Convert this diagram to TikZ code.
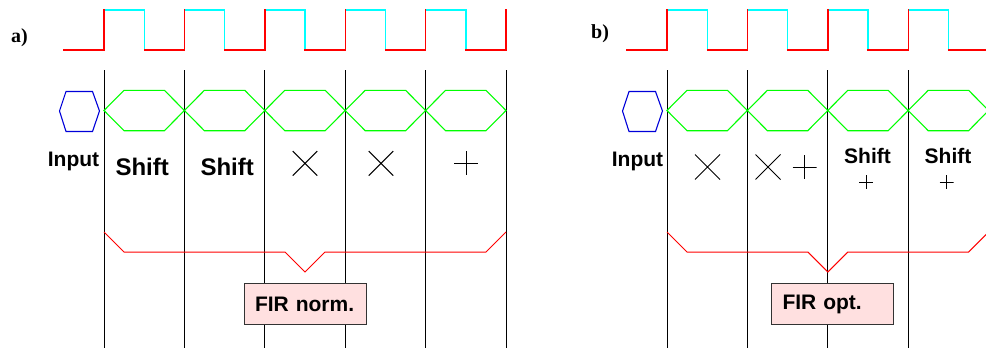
\documentclass[tikz,border=0pt]{standalone}
\usepackage{fontspec}
\setmainfont{Liberation Serif}
\setsansfont{Liberation Sans}
\usetikzlibrary{shapes.misc}
\definecolor{clkred}{RGB}{255,0,0}
\definecolor{clkcyan}{RGB}{0,255,255}
\definecolor{eyegreen}{RGB}{0,255,0}
\definecolor{firpink}{RGB}{255,224,224}
\tikzset{
  clklo/.style={clkred, line width=1.4pt, line cap=rect},
  clkhi/.style={clkcyan, line width=1.4pt},
  eye/.style={eyegreen, line width=1.1pt},
  slot/.style={black, line width=0.9pt},
  bus/.style={clkred, line width=1pt},
  inhex/.style={draw=blue!85!black, line width=1.1pt},
  panellbl/.style={font=\rmfamily\bfseries\fontsize{20}{24}\selectfont,
    inner sep=0pt, anchor=base west},
  optxt/.style={font=\sffamily\bfseries\fontsize{#1}{#1}\selectfont,
    inner sep=0pt, anchor=base},
  mulop/.style={cross out, draw, line width=1pt, minimum size=#1, inner sep=0pt},
  addop/.style={minimum size=#1, inner sep=0pt,
    path picture={\draw[line width=1pt]
      (path picture bounding box.north) -- (path picture bounding box.south)
      (path picture bounding box.west) -- (path picture bounding box.east);}},
  firbox/.style={draw=black!80, line width=1pt, fill=firpink,
    font=\sffamily\bfseries\fontsize{21}{24}\selectfont,
    text width=100pt, align=left, inner xsep=11pt, inner ysep=0pt,
    minimum height=41.5pt},
}

\begin{document}
\begin{tikzpicture}[x=1pt, y=-1pt]
  \useasboundingbox (0,0) rectangle (986,348);
  \clip (0,0) rectangle (986,348);
  % Common parts of both panels
  \foreach \dx in {0,563} {
    \begin{scope}[xshift=\dx pt]
      % clock: high halves, then low halves
      \foreach \k in {0,...,4} {
        \pgfmathsetmacro\xa{104+80.4*\k}
        \draw[clkhi] (\xa,10) -- (\xa+40.2,10) -- (\xa+40.2,50);
      }
      \draw[clklo] (63.5,50) -- (104,50) -- (104,10);
      \foreach \k in {0,...,4} {
        \pgfmathsetmacro\xa{104+80.4*\k}
        \draw[clklo] (\xa+40.2,50) -- (\xa+80.4,50) -- (\xa+80.4,10);
      }
      % time slots
      \foreach \k in {0,...,5}
        \draw[slot] (104+80.4*\k,70) -- (104+80.4*\k,348);
      % data eyes
      \foreach \k in {0,...,4} {
        \pgfmathsetmacro\xa{104+80.4*\k}
        \pgfmathsetmacro\xb{\xa+80.4}
        \draw[eye] (\xa,110.5) -- (\xa+20,90.3) -- (\xb-20,90.3) -- (\xb,110.5)
          -- (\xb-20,130.7) -- (\xa+20,130.7) -- cycle;
      }
      % input
      \draw[inhex] (59.5,111) -- (66,91.5) -- (92.5,91.5) -- (99.5,111)
        -- (92.5,131.5) -- (66,131.5) -- cycle;
    \end{scope}
  }
  % Panel a
  \node[panellbl] (lblA) at (11,42.5) {a)};
  \node[optxt=21] (inA) at (73.5,166.5) {Input};
  \node[optxt=24] (shA1) at (142.2,175) {Shift};
  \node[optxt=24] (shA2) at (227.2,175) {Shift};
  \node[mulop=23.5pt] (mulA3) at (305,163.3) {};
  \node[mulop=23.5pt] (mulA4) at (381,163.3) {};
  \node[addop=24pt] (addA5) at (466.2,163) {};
  \draw[bus] (104,232) -- (124,252) -- (285,252) -- (305,272) -- (325,252)
    -- (486,252) -- (506,232);
  \node[firbox] (firA) at (305,304) {FIR norm.};
  % Panel b
  \node[panellbl] (lblB) at (591,38) {b)};
  \node[optxt=21] (inB) at (637.5,166.5) {Input};
  \node[mulop=24pt] (mulB1) at (707.5,167) {};
  \node[mulop=24pt] (mulB2) at (768,167) {};
  \node[addop=24pt] (addB2) at (804.5,167) {};
  \node[optxt=21] (shB3) at (867.5,163.3) {Shift};
  \node[addop=14pt] (addB3) at (866,182.3) {};
  \node[optxt=21] (shB4) at (948,163.3) {Shift};
  \node[addop=14pt] (addB4) at (946.5,182.3) {};
  \draw[bus] (667,232) -- (687,252) -- (807.8,252) -- (827.8,272) -- (847.8,252)
    -- (968.6,252) -- (988.6,232);
  \node[firbox] (firB) at (832.5,304) {FIR opt.};
\end{tikzpicture}
\end{document}
